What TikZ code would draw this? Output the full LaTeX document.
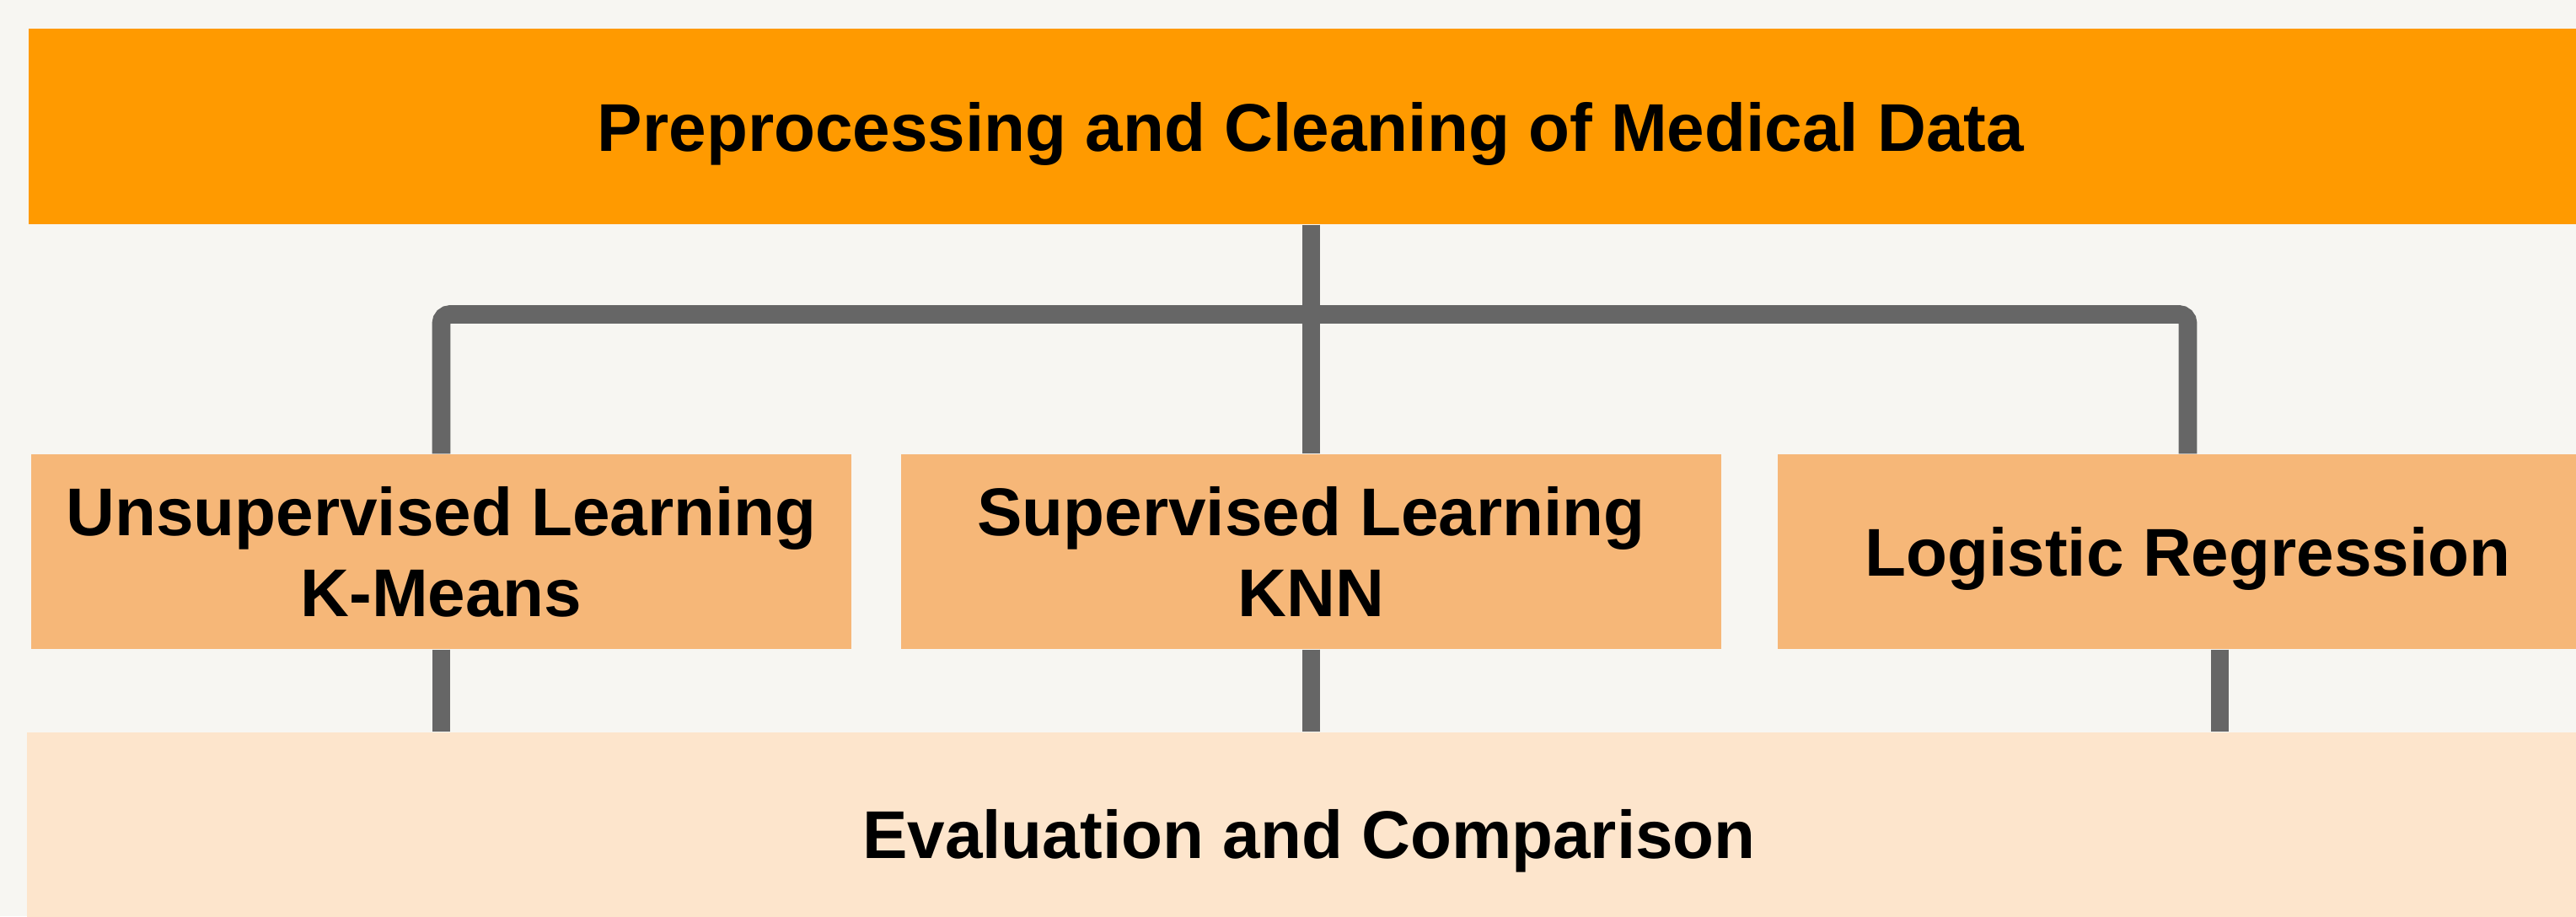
\documentclass[tikz,border=0pt]{standalone}
\usepackage{fontspec}
\setmainfont{Liberation Sans}

\definecolor{nen}{HTML}{F7F6F2}
\definecolor{cam}{HTML}{FF9A00}
\definecolor{camnhat}{HTML}{F6B778}
\definecolor{kem}{HTML}{FDE5CC}
\definecolor{xam}{HTML}{666666}

\newcommand{\chudam}{\fontsize{22.8}{27.3}\selectfont\bfseries}

\begin{document}
\begin{tikzpicture}[
    thanh/.style={minimum width=30.42cm, minimum height=2.32cm, inner sep=0pt, text depth=0pt, font=\chudam},
    hop/.style={fill=camnhat, minimum width=9.73cm, minimum height=2.31cm, inner sep=0pt, align=center, font=\chudam},
    noi/.style={draw=xam, line width=6.2pt}
]
    % 1. Khung và nền
    \useasboundingbox (0,0) rectangle (30.56,10.87);
    \clip (0,0) rectangle (30.56,10.87);
    \fill[nen] (0,0) rectangle (30.56,10.87);

    % 2. Thanh trên và thanh dưới
    \node[thanh, fill=cam] (tiensuly) at (15.55, 9.37) {Preprocessing and Cleaning of Medical Data};
    \node[thanh, fill=kem, minimum height=2.4cm] (danhgia) at (15.53, 0.98) {Evaluation and Comparison};

    % 3. Ba hộp phương pháp
    \node[hop] (kmeans) at (5.235, 4.325) {Unsupervised Learning\\K-Means};
    \node[hop] (knn) at (15.555, 4.325) {Supervised Learning\\KNN};
    \node[hop, text depth=0pt] (logistic) at (25.955, 4.325) {Logistic Regression};

    % 4. Đường nối phía trên
    \coordinate (re) at (15.555, 7.14);
    \draw[noi] (knn.north |- tiensuly.south) -- (knn.north);
    \draw[noi, rounded corners=3pt] (kmeans.north) |- (re) -| (logistic.north);

    % 5. Đường nối xuống thanh dưới
    \draw[noi] (kmeans.south) -- (kmeans.south |- danhgia.north);
    \draw[noi] (knn.south) -- (knn.south |- danhgia.north);
    \draw[noi] ([xshift=3.8mm]logistic.south) -- ([xshift=3.8mm]logistic.south |- danhgia.north);
\end{tikzpicture}
\end{document}
